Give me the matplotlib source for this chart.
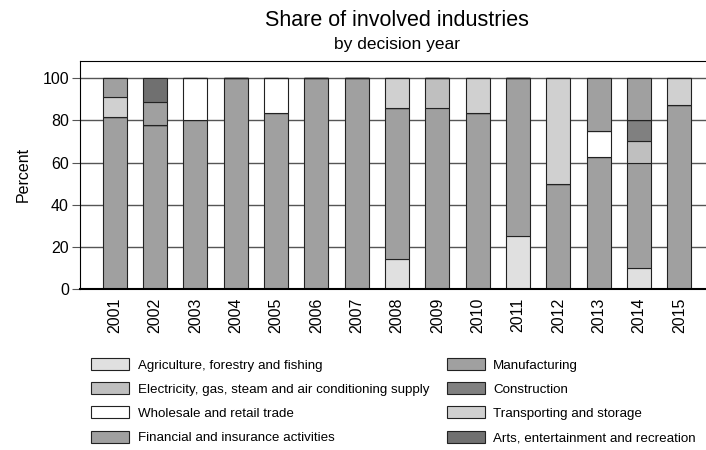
import numpy as np
import matplotlib
matplotlib.use("Agg")
import matplotlib.pyplot as plt
from matplotlib.patches import Patch

plt.rcParams['font.family'] = ['Liberation Sans', 'DejaVu Sans']

years = [str(y) for y in range(2001, 2016)]

# share (percent) of each industry per decision year, in stacking order
agriculture = [0, 0, 0, 0, 0, 0, 0, 14.3, 0, 0, 25, 0, 0, 10, 0]
manufacturing = [81.8, 77.8, 80, 100, 83.3, 100, 100, 71.4, 85.7, 83.3, 75, 50, 62.5, 50, 87.5]
electricity = [0, 0, 0, 0, 0, 0, 0, 0, 14.3, 0, 0, 0, 0, 10, 0]
construction = [0, 0, 0, 0, 0, 0, 0, 0, 0, 0, 0, 0, 0, 10, 0]
wholesale = [0, 0, 20, 0, 16.7, 0, 0, 0, 0, 0, 0, 0, 12.5, 0, 0]
transporting = [9.1, 0, 0, 0, 0, 0, 0, 14.3, 0, 16.7, 0, 50, 0, 0, 12.5]
financial = [9.1, 11.1, 0, 0, 0, 0, 0, 0, 0, 0, 0, 0, 25, 20, 0]
arts = [0, 11.1, 0, 0, 0, 0, 0, 0, 0, 0, 0, 0, 0, 0, 0]

series = [
    ("Agriculture, forestry and fishing", agriculture, "#e0e0e0"),
    ("Manufacturing", manufacturing, "#a0a0a0"),
    ("Electricity, gas, steam and air conditioning supply", electricity, "#bfbfbf"),
    ("Construction", construction, "#808080"),
    ("Wholesale and retail trade", wholesale, "#ffffff"),
    ("Transporting and storage", transporting, "#d0d0d0"),
    ("Financial and insurance activities", financial, "#a0a0a0"),
    ("Arts, entertainment and recreation", arts, "#707070"),
]

fig = plt.figure(figsize=(7.06, 4.5), dpi=100)
ax = fig.add_axes([80 / 706, 161 / 450, 634 / 706, 228.5 / 450])

x = np.arange(len(years))
bottom = np.zeros(len(years))
handles = {}
for name, vals, col in series:
    vals = np.array(vals, dtype=float)
    ax.bar(x, vals, 0.6, bottom=bottom, color=col, edgecolor="#222222",
           linewidth=0.8, zorder=2)
    bottom += vals
    handles[name] = Patch(facecolor=col, edgecolor="#222222", linewidth=0.8)

ax.set_xlim(-0.86, len(years) - 1 + 0.86)
ax.set_ylim(0, 108.4)
ax.set_yticks([0, 20, 40, 60, 80, 100])
ax.yaxis.grid(True, color="#555555", linewidth=1)
ax.set_axisbelow(True)
ax.set_xticks(x)
ax.set_xticklabels(years, rotation=90, fontsize=11.5)
ax.tick_params(axis="x", length=0, pad=6)
ax.tick_params(axis="y", length=6, color="#555555", labelsize=11.5, pad=2)
ax.set_ylabel("Percent", fontsize=11.5, labelpad=8)
for s in ax.spines.values():
    s.set_linewidth(0.8)
ax.spines["bottom"].set_linewidth(1.5)

fig.text(0.562, 0.955, "Share of involved industries", ha="center", va="center", fontsize=15.5)
fig.text(0.562, 0.9, "by decision year", ha="center", va="center", fontsize=12.5)

order = [
    "Agriculture, forestry and fishing",
    "Electricity, gas, steam and air conditioning supply",
    "Wholesale and retail trade",
    "Financial and insurance activities",
    "Manufacturing",
    "Construction",
    "Transporting and storage",
    "Arts, entertainment and recreation",
]
fig.legend([handles[n] for n in order], order, ncol=2, loc="upper left",
           bbox_to_anchor=(79 / 706, 1 - 346 / 450), frameon=False, fontsize=9.6,
           handlelength=2.85, handleheight=1.0, handletextpad=0.65,
           columnspacing=1.3, labelspacing=0.8)

fig.savefig("out.png", dpi=100)
